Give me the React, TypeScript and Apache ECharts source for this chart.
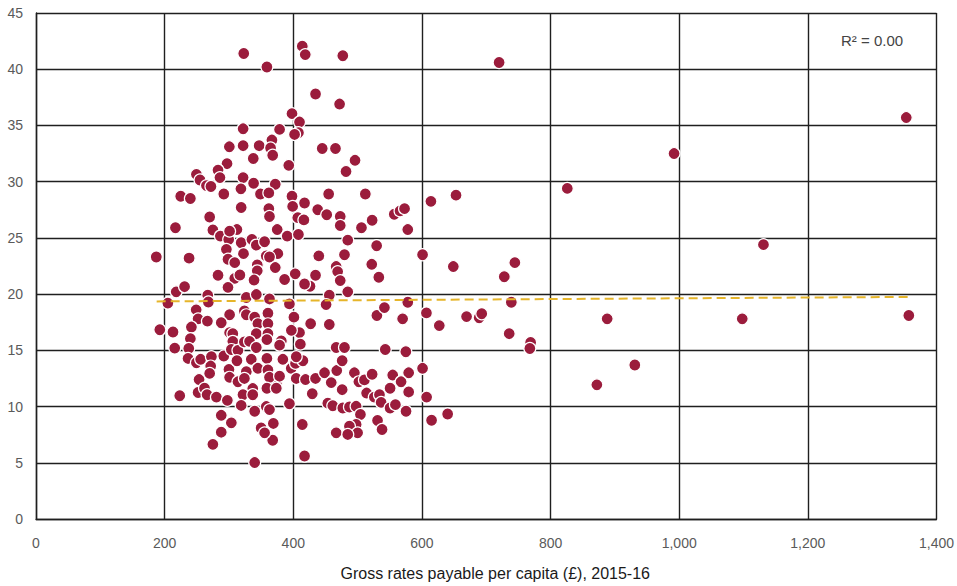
import React, { useEffect, useRef } from "react";
import * as echarts from "echarts";

// Gross rates payable per capita (£), 2015-16  vs  y value
const pointX: number[] = [
  323, 359, 414, 418.6, 477, 434.6, 472, 398, 409.7, 408, 402, 378.7, 322, 300.6, 322, 347, 366.8, 364.7, 368, 337.8,
  445, 465.6, 496, 482, 393, 297, 283, 286, 249.4, 255, 265, 272, 322, 318.6, 338.3, 372, 292, 349, 362, 398,
  455, 512, 225, 240, 417.5, 438, 452, 473, 473, 506, 522.6, 529.6, 319, 362, 363, 399, 407, 416.5, 270, 216.8,
  275, 286.6, 299.6, 312.4, 296, 301, 319, 322.6, 335.7, 342.5, 355.4, 375, 390.6, 408, 376, 358, 363, 344, 344, 372,
  298.5, 309, 283, 309, 317, 339, 298.5, 386.5, 403, 426, 417.5, 434.6, 439.7, 466.7, 469, 473, 479.6, 484.7, 522, 533,
  484.7, 456, 451, 530, 187, 238, 218, 231, 205, 267, 268, 327, 342.6, 363, 394, 249, 252, 266.5, 301, 324,
  327, 340, 345, 360.6, 360.6, 401, 409.7, 427, 456, 288, 301, 306, 241.6, 192.5, 213, 342.5, 360.6, 397, 240, 215.7,
  237.5, 236.4, 249.4, 256, 272.7, 292, 271.6, 270, 253.5, 252, 223.5, 262, 266, 280.5, 297.5, 300, 301, 306, 303.7, 314,
  324, 332, 342.5, 359, 312.4, 327, 334.7, 345, 314, 337, 324, 321.8, 337, 319, 288, 303.7, 288, 275, 340, 358,
  363, 369, 350, 368, 355.4, 340, 359, 360.6, 373.6, 381.4, 378.7, 363, 378.7, 359, 373.6, 394, 383.8, 396.8, 403.5, 415,
  404.6, 411, 404.6, 419, 434.6, 429.5, 414, 417.5, 448.6, 467.6, 476, 459, 476, 466.7, 479.6, 453.7, 461.4, 477, 487.3, 497.7,
  495, 502, 514, 526, 531, 504.4, 497.7, 487.3, 500, 466.7, 484.7, 510.6, 826, 614, 653, 557, 566, 573, 578, 601,
  648.8, 744.5, 728, 578, 541.7, 570, 607, 627, 669.4, 689, 693, 739, 735.7, 888, 769, 767.8, 931, 872, 543, 575,
  601, 522.6, 554.6, 579.4, 567.6, 550.5, 579.4, 534, 536.6, 607.3, 550.5, 558.8, 575.3, 538, 615, 640, 720, 992, 1353, 1131,
  1098, 1357,
];

const pointY: number[] = [
  41.4, 40.2, 42.05, 41.3, 41.2, 37.8, 36.9, 36.05, 35.3, 34.35, 34.2, 34.65, 34.7, 33.1, 33.2, 33.2, 33.7, 33.0, 32.35, 32.06,
  32.95, 32.95, 31.9, 30.9, 31.45, 31.6, 31.03, 30.36, 30.65, 30.15, 29.65, 29.57, 30.36, 29.36, 29.86, 29.77, 28.9, 28.9, 29.0, 28.7,
  28.9, 28.9, 28.7, 28.5, 28.1, 27.5, 27.06, 26.9, 26.1, 25.9, 26.57, 24.3, 27.7, 27.6, 26.9, 27.8, 26.8, 26.6, 26.86, 25.9,
  25.7, 25.16, 24.86, 25.74, 23.98, 25.6, 24.57, 23.6, 24.86, 24.36, 24.66, 25.74, 25.16, 25.3, 23.6, 23.4, 23.3, 22.6, 22.07, 22.36,
  23.1, 22.8, 21.68, 21.4, 21.7, 21.25, 20.6, 21.3, 21.8, 20.7, 20.9, 21.68, 23.4, 22.45, 22.0, 21.2, 23.5, 24.8, 22.65, 21.5,
  20.2, 19.9, 19.07, 18.1, 23.3, 23.2, 20.2, 20.66, 19.2, 19.9, 19.3, 19.7, 19.96, 19.57, 19.13, 18.6, 17.8, 17.6, 18.16, 18.5,
  18.16, 17.95, 17.36, 18.3, 17.36, 17.95, 16.57, 17.36, 17.3, 17.45, 16.57, 16.48, 17.07, 16.83, 16.63, 16.48, 16.48, 16.78, 16.04, 15.2,
  15.16, 14.28, 13.9, 14.2, 14.43, 14.5, 13.6, 12.95, 12.4, 11.25, 10.96, 11.63, 11.05, 10.84, 10.55, 13.3, 12.6, 15.8, 15.07, 15.0,
  15.75, 15.8, 15.25, 15.95, 14.07, 13.1, 14.2, 13.4, 12.2, 11.6, 12.5, 11.05, 11.05, 10.1, 9.22, 8.55, 7.72, 6.64, 9.58, 10.0,
  9.73, 8.5, 8.1, 7.0, 7.66, 5.02, 14.28, 13.25, 12.07, 15.84, 15.46, 12.6, 12.7, 11.63, 11.63, 10.25, 14.2, 13.4, 13.84, 14.07,
  14.43, 15.55, 12.5, 12.4, 12.5, 11.14, 8.4, 5.6, 13.0, 13.2, 14.07, 12.13, 11.5, 15.25, 15.25, 10.3, 10.07, 9.87, 9.96, 10.02,
  13.0, 12.2, 11.2, 10.84, 8.76, 9.29, 8.4, 8.25, 7.66, 7.66, 7.52, 12.37, 29.4, 28.25, 28.8, 27.1, 27.4, 27.6, 25.74, 23.5,
  22.45, 22.8, 21.54, 19.28, 18.8, 17.8, 18.33, 17.2, 18.0, 17.9, 18.25, 19.28, 16.48, 17.8, 15.7, 15.16, 13.7, 11.93, 15.07, 14.87,
  13.4, 12.87, 12.8, 13.0, 12.2, 11.63, 11.3, 11.05, 10.37, 10.84, 9.87, 10.17, 9.58, 7.96, 8.78, 9.34, 40.6, 32.5, 35.7, 24.4,
  17.8, 18.1,
];

const trendX: number[] = [187.6, 1357];
const trendY: number[] = [19.35, 19.75];

const xTicks = { min: 0, max: 1400, interval: 200 };
const yTicks = { min: 0, max: 45, interval: 5 };

const xTitle = "Gross rates payable per capita (£), 2015-16";
const rSquaredLabel = "R² = 0.00";

const FONT = "'Liberation Sans', Arial, Helvetica, sans-serif";

export default function App() {
  const ref = useRef<HTMLDivElement>(null);

  useEffect(() => {
    if (!ref.current) return;
    const chart = echarts.init(ref.current, null, { renderer: "svg" });
    const scatterData = pointX.map((x, i) => [x, pointY[i]]);
    const trendData = trendX.map((x, i) => [x, trendY[i]]);
    const gridLine = { show: true, lineStyle: { color: "#1f1f1f", width: 1.4 } };

    chart.setOption({
      animation: false,
      backgroundColor: "#ffffff",
      textStyle: { fontFamily: FONT },
      grid: { left: 36, right: 13, top: 13, bottom: 58, containLabel: false },
      xAxis: {
        type: "value",
        min: xTicks.min,
        max: xTicks.max,
        interval: xTicks.interval,
        axisLine: { show: true, lineStyle: { color: "#1f1f1f", width: 1.4 } },
        axisTick: { show: false },
        splitLine: gridLine,
        axisLabel: {
          color: "#5a5a5a",
          fontSize: 14,
          margin: 17,
          fontFamily: FONT,
          formatter: (v: number) => v.toLocaleString("en-GB"),
        },
        name: xTitle,
        nameLocation: "middle",
        nameGap: 46,
        nameTextStyle: { color: "#1a1a1a", fontSize: 16, fontFamily: FONT, padding: [0, 0, 0, 18] },
      },
      yAxis: {
        type: "value",
        min: yTicks.min,
        max: yTicks.max,
        interval: yTicks.interval,
        axisLine: { show: true, lineStyle: { color: "#1f1f1f", width: 1.4 } },
        axisTick: { show: false },
        splitLine: gridLine,
        axisLabel: { color: "#5a5a5a", fontSize: 14, margin: 13, fontFamily: FONT },
      },
      series: [
        {
          type: "scatter",
          data: scatterData,
          symbol: "circle",
          symbolSize: 12,
          itemStyle: { color: "#9b1c3c", borderColor: "#ffffff", borderWidth: 1.2, opacity: 1 },
          z: 3,
        },
        {
          type: "line",
          data: trendData,
          symbol: "none",
          lineStyle: { color: "#e6b52a", width: 2, type: [9, 5] },
          z: 4,
        },
      ],
      graphic: [
        {
          type: "text",
          left: 841,
          top: 33,
          style: { text: rSquaredLabel, fill: "#444", fontSize: 15, fontFamily: FONT },
        },
      ],
    });
    return () => chart.dispose();
  }, []);

  return (
    <div
      ref={ref}
      style={{ position: "fixed", left: 0, top: 0, width: 957, height: 586, background: "#fff" }}
    />
  );
}
